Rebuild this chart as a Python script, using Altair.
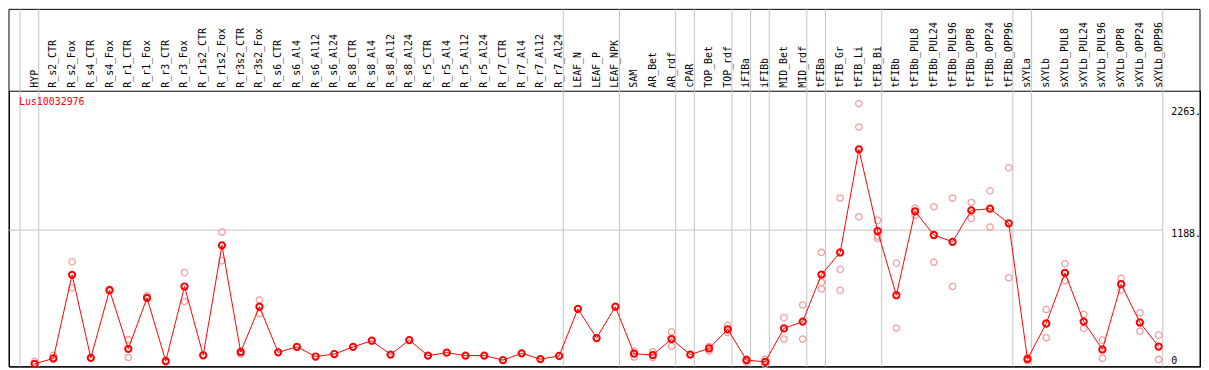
import altair as alt
import pandas as pd

gene = "Lus10032976"

categories = [
    "HYP", "R_s2_CTR", "R_s2_Fox", "R_s4_CTR", "R_s4_Fox", "R_r1_CTR", "R_r1_Fox",
    "R_r3_CTR", "R_r3_Fox", "R_r1s2_CTR", "R_r1s2_Fox", "R_r3s2_CTR", "R_r3s2_Fox",
    "R_s6_CTR", "R_s6_Al4", "R_s6_Al12", "R_s6_Al24", "R_s8_CTR", "R_s8_Al4",
    "R_s8_Al12", "R_s8_Al24", "R_r5_CTR", "R_r5_Al4", "R_r5_Al12", "R_r5_Al24",
    "R_r7_CTR", "R_r7_Al4", "R_r7_Al12", "R_r7_Al24", "LEAF_N", "LEAF_P", "LEAF_NPK",
    "SAM", "AR_Bet", "AR_rdf", "cPAR", "TOP_Bet", "TOP_rdf", "iFIBa", "iFIBb",
    "MID_Bet", "MID_rdf", "tFIBa", "tFIB_Gr", "tFIB_Li", "tFIB_Bi", "tFIBb",
    "tFIBb_PUL8", "tFIBb_PUL24", "tFIBb_PUL96", "tFIBb_OPP8", "tFIBb_OPP24",
    "tFIBb_OPP96", "sXYLa", "sXYLb", "sXYLb_PUL8", "sXYLb_PUL24", "sXYLb_PUL96",
    "sXYLb_OPP8", "sXYLb_OPP24", "sXYLb_OPP96",
]

groups = (["HYP"] + ["R"] * 28 + ["LEAF"] * 3 + ["AR"] * 3 + ["cPAR"] + ["TOP"] * 2
          + ["iFIBa"] + ["iFIBb"] + ["MID"] * 2 + ["tFIBa"] + ["tFIB"] * 3
          + ["tFIBb"] * 7 + ["sXYLa"] + ["sXYLb"] * 7)

mean_values = [
    10, 57, 794, 62, 659, 142, 591, 33, 691, 85, 1054, 113, 513,
    111, 159, 74, 96, 159, 213, 91, 219, 82, 108, 82, 82, 42, 102, 51, 79,
    494, 237, 513, 99, 87, 228, 91, 145, 314, 42, 27, 322, 382,
    796, 991, 1900, 1180, 614, 1354, 1145, 1085, 1362, 1377, 1248,
    51, 365, 811, 382, 136, 711, 374, 162,
]

replicates = [
    [31], [85, 50], [908, 679], [], [665, 652], [222, 65], [610, 585], [40, 28],
    [814, 559], [], [1171, 919], [120, 94], [571, 451],
    [], [], [], [], [], [], [], [], [], [], [], [], [], [], [], [],
    [], [], [], [122, 70], [116, 65], [291, 165], [], [162, 122], [348, 285],
    [53, 25], [50, 5], [417, 228], [528, 228],
    [991, 728, 670], [1471, 842, 657], [2303, 2097, 1305], [1274, 1137, 1116],
    [897, 325], [1382, 1317], [1394, 905], [1471, 691], [1431, 1291], [1534, 1214],
    [1737, 768], [65, 36], [488, 239], [891, 742], [445, 322], [219, 59],
    [762, 659], [459, 297], [262, 48],
]

tick_values = [2263, 1188, 0]
tick_labels = ["2263.", "1188.", "0"]
grid_value = 1188

# ---- layout / style ----
W, H, HDR = 1200, 278, 82
X_MIN, X_MAX = -1.368, 62.21
SEP_OFF = 0.22
FONT = "DejaVu Sans Mono"
GRAY = "#c4c4c4"
PINK = "#f0a0a0"

xs = alt.Scale(domain=[X_MIN, X_MAX], nice=False, zero=False)
ys = alt.Scale(domain=[-15.4, 2416.6], nice=False, zero=False)

df_mean = pd.DataFrame({"idx": list(range(len(categories))), "cat": categories, "v": mean_values})
rep_rows = [{"idx": i, "v": r} for i, reps in enumerate(replicates) for r in reps]
df_rep = pd.DataFrame(rep_rows)

bounds = [-1] + [i for i in range(len(groups) - 1) if groups[i] != groups[i + 1]] + [len(groups) - 1]
df_sep = pd.DataFrame({"pos": [b + SEP_OFF for b in bounds]})
df_grid = pd.DataFrame({"x0": [X_MIN], "x1": [bounds[-1] + SEP_OFF], "v": [grid_value]})
df_ticks = pd.DataFrame({"v": tick_values, "label": tick_labels})

X = alt.X("idx:Q", scale=xs, axis=None)

frame = alt.Chart(pd.DataFrame({"a": [0]})).mark_rect(
    fillOpacity=0, stroke="black", strokeWidth=1
).encode(x=alt.value(0), x2=alt.value(W), y=alt.value(-HDR), y2=alt.value(H))

seps = alt.Chart(df_sep).mark_rule(color=GRAY, strokeWidth=1).encode(
    x=alt.X("pos:Q", scale=xs, axis=None), y=alt.value(-HDR), y2=alt.value(H)
)

grid = alt.Chart(df_grid).mark_rule(color=GRAY, strokeWidth=1).encode(
    x=alt.X("x0:Q", scale=xs, axis=None), x2="x1:Q",
    y=alt.Y("v:Q", scale=ys, axis=None),
)

hdr_labels = alt.Chart(df_mean).mark_text(
    angle=270, align="left", baseline="middle", font=FONT, fontSize=10, color="black"
).encode(x=X, y=alt.value(-3), text="cat:N")

title = alt.Chart(pd.DataFrame({"t": [gene]})).mark_text(
    align="left", baseline="middle", font=FONT, fontSize=10, color="red"
).encode(x=alt.value(10), y=alt.value(11.5), text="t:N")

ticks_top = alt.Chart(df_ticks).transform_filter("datum.v > 0").mark_text(
    align="left", baseline="top", font=FONT, fontSize=10, color="black", dy=-1
).encode(x=alt.value(1171), y=alt.Y("v:Q", scale=ys, axis=None), text="label:N")

ticks_zero = alt.Chart(df_ticks).transform_filter("datum.v <= 0").mark_text(
    align="left", baseline="bottom", font=FONT, fontSize=10, color="black", dy=1
).encode(x=alt.value(1171), y=alt.Y("v:Q", scale=ys, axis=None), text="label:N")

reps = alt.Chart(df_rep).mark_point(
    shape="circle", filled=False, color=PINK, size=42, strokeWidth=1.3, opacity=1
).encode(x=X, y=alt.Y("v:Q", scale=ys, axis=None))

line = alt.Chart(df_mean).mark_line(color="red", strokeWidth=1).encode(
    x=X, y=alt.Y("v:Q", scale=ys, axis=None)
)

means = alt.Chart(df_mean).mark_point(
    shape="circle", filled=False, color="red", size=40, strokeWidth=2, opacity=1
).encode(x=X, y=alt.Y("v:Q", scale=ys, axis=None))

chart = alt.layer(
    frame, seps, grid, hdr_labels, title, ticks_top, ticks_zero, reps, line, means
).properties(
    width=W, height=H,
    padding={"left": 1, "top": HDR, "right": 1, "bottom": 1},
    autosize="none",
).configure_view(stroke="black", strokeWidth=1)

chart.save("out.html", embed_options={"renderer": "svg", "actions": False})
